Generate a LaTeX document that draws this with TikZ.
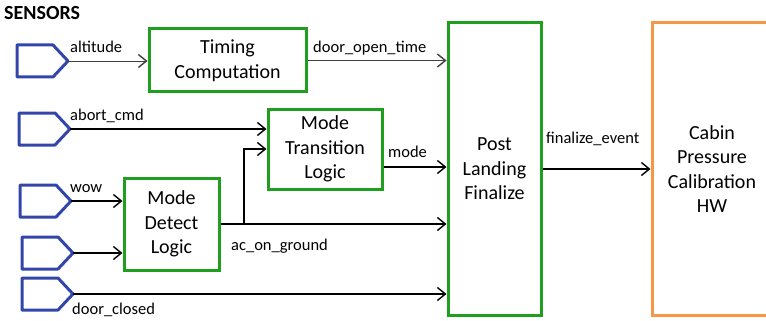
\documentclass[tikz,border=0pt]{standalone}
\usepackage{fontspec}
\setmainfont{Carlito}
\usetikzlibrary{arrows.meta,calc}
\definecolor{blockgreen}{RGB}{30,160,30}
\definecolor{sensorblue}{RGB}{50,70,170}
\definecolor{hworange}{RGB}{247,150,70}
\newcommand{\sensor}[2]{% sensor port symbol, tip at (#2), tip named #1
  \draw[sensorblue, line width=3pt, line join=round]
    ($(#2)+(-51,-16)$) -- ($(#2)+(-15,-16)$) -- (#2)
    -- ($(#2)+(-15,16)$) -- ($(#2)+(-51,16)$) -- cycle;
  \coordinate (#1) at (#2);
}

\begin{document}
\begin{tikzpicture}[x=1pt,y=-1pt,
    block/.style={draw=blockgreen, line width=3pt, align=center, inner sep=0pt,
      font=\fontsize{20}{24.5}\selectfont},
    hwblock/.style={block, draw=hworange},
    sig/.style={line width=1.4pt, -{Straight Barb[length=8pt,width=13pt,line width=1.4pt]}},
    thinsig/.style={sig, line width=0.9pt, draw=black!75},
    lbl/.style={anchor=base west, inner sep=0pt, font=\fontsize{16.5}{20}\selectfont}]
  \useasboundingbox (0,0) rectangle (766,321);
  \node[anchor=base west, inner sep=0pt, font=\fontsize{20}{24}\selectfont\bfseries]
    (title) at (4,20) {SENSORS};

  % sensors
  \sensor{alt}{68,61}
  \sensor{abort}{70,129}
  \sensor{wow}{71,201}
  \sensor{gnd}{73,253}
  \sensor{door}{73,294}

  % blocks
  \node[block, minimum width=157, minimum height=63] (timing) at (227.5,60.5) {Timing\\Computation};
  \node[block, minimum width=114, minimum height=80] (mtl) at (325,149) {Mode\\Transition\\Logic};
  \node[block, minimum width=95, minimum height=92] (mdl) at (171.5,224) {Mode\\Detect\\Logic};
  \node[block, minimum width=93, minimum height=292] (plf) at (494.5,169) {Post\\Landing\\Finalize};
  \node[hwblock, minimum width=120, minimum height=292] (cabin) at (712,169) {Cabin\\Pressure\\Calibration\\HW};

  % signals
  \draw[thinsig] (alt) -- (timing.west |- alt);
  \draw[thinsig] (timing.east) -- (plf.west |- timing.east);
  \draw[sig] (abort) -- (mtl.west |- abort);
  \draw[sig] (wow) -- (mdl.west |- wow);
  \draw[sig] (gnd) -- (mdl.west |- gnd);
  \draw[sig] (mdl.east) -- (plf.west |- mdl.east);
  \coordinate (split) at (244,224);
  \draw[sig] (split) |- (mtl.west);
  \coordinate (modeout) at ($(mtl.east)+(0,18)$);
  \draw[sig] (modeout) -- (plf.west |- modeout);
  \draw[sig] (door) -- (plf.west |- door);
  \draw[sig] (plf.east) -- (cabin.west);

  % signal names
  \node[lbl] (laltitude) at (70,53) {altitude};
  \node[lbl] (ldooropen) at (313,53) {door\_open\_time};
  \node[lbl] (labort) at (70,120) {abort\_cmd};
  \node[lbl] (lwow) at (70,192) {wow};
  \node[lbl] (lmode) at (388,157) {mode};
  \node[lbl] (lground) at (231,250) {ac\_on\_ground};
  \node[lbl] (ldoorclosed) at (72,314) {door\_closed};
  \node[lbl] (lfinalize) at (546,143) {finalize\_event};
\end{tikzpicture}
\end{document}
